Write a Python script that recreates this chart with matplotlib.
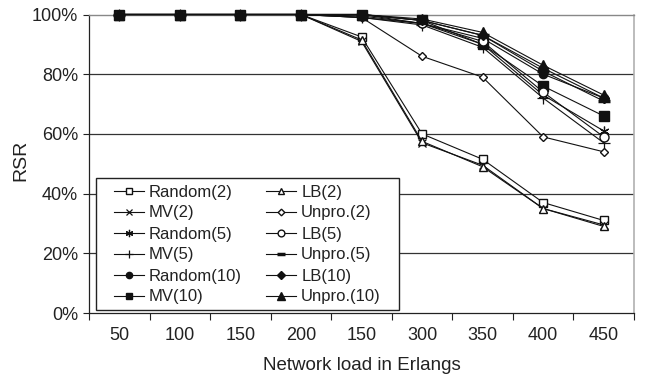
import matplotlib
matplotlib.use("Agg")
import matplotlib.pyplot as plt
from matplotlib.patches import Rectangle
import numpy as np

plt.rcParams['font.family'] = ['Liberation Sans', 'DejaVu Sans']

categories = ["50", "100", "150", "200", "150", "300", "350", "400", "450"]

random2 = [100, 100, 100, 100, 92.5, 60, 51.5, 37, 31]
lb2 = [100, 100, 100, 100, 91.5, 57.5, 49, 35, 29]
mv2 = [100, 100, 100, 100, 91, 57, 49.5, 35, 29.5]
unpro2 = [100, 100, 100, 100, 99, 86, 79, 59, 54]
random5 = [100, 100, 100, 100, 99, 97, 90, 73, 61]
lb5 = [100, 100, 100, 100, 99.5, 97, 91, 74, 59]
mv5 = [100, 100, 100, 100, 99, 96.5, 89, 72, 57]
unpro5 = [100, 100, 100, 100, 100, 98, 93, 81, 71]
random10 = [100, 100, 100, 100, 100, 97, 92, 80, 72]
lb10 = [100, 100, 100, 100, 100, 98, 93, 82, 72]
mv10 = [100, 100, 100, 100, 100, 98, 90, 76, 66]
unpro10 = [100, 100, 100, 100, 100, 98.5, 94, 83, 73]

series = [
    ("Random(2)", random2, dict(marker='s', mfc='white', ms=6)),
    ("MV(2)", mv2, dict(marker='x', ms=6, mew=0.9)),
    ("Random(5)", random5, dict(marker=(6, 2, 0), ms=7, mew=0.9)),
    ("MV(5)", mv5, dict(marker='+', ms=8, mew=0.9)),
    ("Random(10)", random10, dict(marker='o', mfc='#111', ms=6)),
    ("MV(10)", mv10, dict(marker='s', mfc='#111', ms=6.5)),
    ("LB(2)", lb2, dict(marker='^', mfc='white', ms=6)),
    ("Unpro.(2)", unpro2, dict(marker='D', mfc='white', ms=4.5)),
    ("LB(5)", lb5, dict(marker='o', mfc='white', ms=6.5)),
    ("Unpro.(5)", unpro5, dict(marker='_', ms=8, mew=2.5)),
    ("LB(10)", lb10, dict(marker='D', mfc='#111', ms=5)),
    ("Unpro.(10)", unpro10, dict(marker='^', mfc='#111', ms=7)),
]

W, H = 647, 381
fig = plt.figure(figsize=(W/100, H/100), dpi=100)
ax = fig.add_axes([89/W, (H-313)/H, (634-89)/W, (313-14.5)/H])

x = np.arange(len(categories))
for label, vals, style in series:
    ax.plot(x, vals, color='#111', lw=0.8, mec='#111', label=label, zorder=3, clip_on=False, **style)

ax.set_xlim(-0.5, len(categories) - 0.5)
ax.set_ylim(0, 100)
ax.set_yticks([0, 20, 40, 60, 80, 100])
ax.set_yticklabels(["0%", "20%", "40%", "60%", "80%", "100%"])
ax.set_xticks(x)
ax.set_xticklabels(categories)
ax.set_xticks(np.arange(-0.5, len(categories), 1.0), minor=True)
ax.tick_params(axis='x', which='major', length=0, pad=10, labelsize=13, colors='#222')
ax.tick_params(axis='x', which='minor', length=5, width=0.8, direction='out', color='#222')
ax.tick_params(axis='y', length=4, width=0.8, direction='out', labelsize=13, colors='#222', pad=4)

for yv in [20, 40, 60, 80]:
    ax.axhline(yv, color='#333', lw=0.9, zorder=1)
ax.spines['top'].set_color('#888')
ax.spines['top'].set_linewidth(1.0)
ax.spines['right'].set_color('#b0b0b0')
ax.spines['right'].set_linewidth(1.2)
ax.spines['left'].set_color('#222')
ax.spines['bottom'].set_color('#222')
ax.spines['left'].set_linewidth(0.9)
ax.spines['bottom'].set_linewidth(0.9)

fig.text(21/W, 1 - 160/H, "RSR", rotation=90, fontsize=14, color='#222', ha='center', va='center')
fig.text(362/W, 1 - 366/H, "Network load in Erlangs", fontsize=13.5, color='#222', ha='center', va='center')

# legend frame box (inside the axes drawing order, under the legend entries)
box = Rectangle((96/W, (H-310)/H), (399-96)/W, (310-178)/H, transform=fig.transFigure,
                facecolor='white', edgecolor='#222', lw=1.0, zorder=4, clip_on=False)
ax.add_patch(box)

leg = ax.legend(ncol=2, loc='center left', bbox_to_anchor=(114/W, (H-244.5)/H),
                bbox_transform=fig.transFigure, borderaxespad=0, borderpad=0,
                frameon=False, fontsize=12, handlelength=1.8,
                handletextpad=0.3, columnspacing=1.45, labelspacing=0.36,
                markerscale=0.75)
leg.set_zorder(5)
for t in leg.get_texts():
    t.set_color('#222')

fig.savefig("out.png", dpi=100)
